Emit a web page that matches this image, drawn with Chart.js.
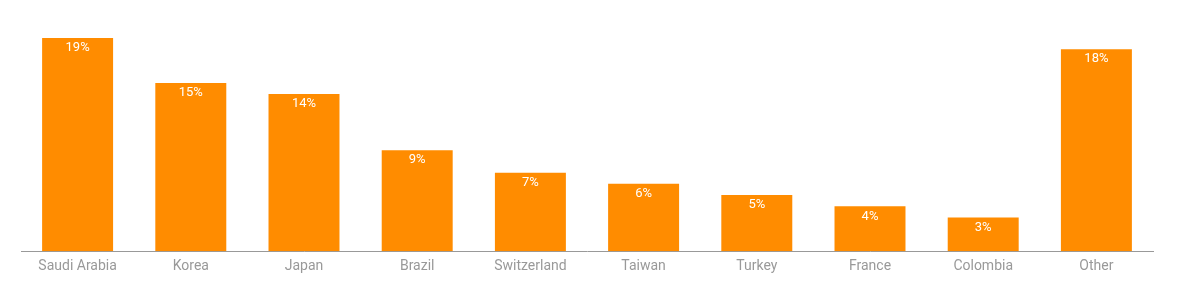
<!DOCTYPE html>
<html lang="en">
<head>
    <meta charset="UTF-8">
    <title>Share by country</title>
    <script src="https://cdn.jsdelivr.net/npm/chart.js"></script>
    <style>
        body {
            margin: 0;
            padding: 0;
            background: #fff;
        }

        .chart-container {
            width: 1199px;
            height: 291px;
        }
    </style>
</head>
<body>

    <div class="chart-container">
        <canvas id="shareChart"></canvas>
    </div>

    <script>
        // Data
        const countries = ["Saudi Arabia", "Korea", "Japan", "Brazil", "Switzerland", "Taiwan", "Turkey", "France", "Colombia", "Other"];
        const shares = [19, 15, 14, 9, 7, 6, 5, 4, 3, 18];

        // Draw the percentage inside the top of each bar
        const barLabels = {
            id: 'barLabels',
            afterDatasetsDraw(chart) {
                const ctx = chart.ctx;
                const meta = chart.getDatasetMeta(0);
                ctx.save();
                ctx.fillStyle = '#fff';
                ctx.font = '13px Roboto, sans-serif';
                ctx.textAlign = 'center';
                ctx.textBaseline = 'middle';
                meta.data.forEach((bar, i) => {
                    ctx.fillText(shares[i] + '%', bar.x, bar.y + 10);
                });
                ctx.restore();
            }
        };

        const ctx = document.getElementById('shareChart').getContext('2d');

        const shareChart = new Chart(ctx, {
            type: 'bar',
            data: {
                labels: countries,
                datasets: [{
                    data: shares,
                    backgroundColor: '#ff8c00',
                    barPercentage: 0.627,
                    categoryPercentage: 1
                }]
            },
            options: {
                responsive: true,
                maintainAspectRatio: false,
                animation: false,
                layout: {
                    padding: { left: 21, right: 46, top: 38, bottom: 9 }
                },
                plugins: {
                    legend: { display: false },
                    tooltip: { enabled: false }
                },
                scales: {
                    y: {
                        display: false,
                        min: 0,
                        max: 19
                    },
                    x: {
                        grid: {
                            display: false,
                            drawTicks: false
                        },
                        border: {
                            color: '#999',
                            width: 1
                        },
                        ticks: {
                            color: '#999',
                            padding: 7,
                            font: { family: 'Roboto, sans-serif', size: 14 }
                        }
                    }
                }
            },
            plugins: [barLabels]
        });
    </script>
</body>
</html>
